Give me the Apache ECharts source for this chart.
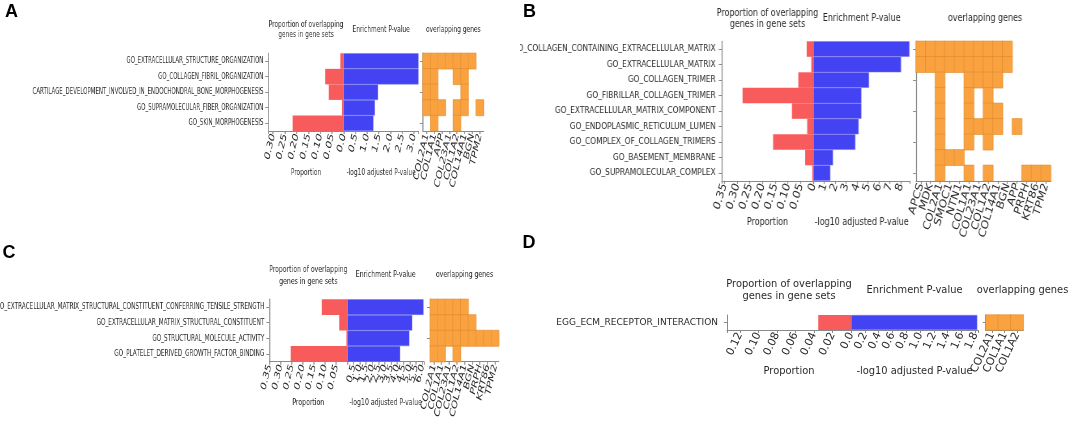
<!DOCTYPE html>
<html><head><meta charset="utf-8">
<script src="https://cdn.jsdelivr.net/npm/echarts@6/dist/echarts.min.js"></script>
<style>
html,body{margin:0;padding:0;background:#fff;width:1072px;height:421px;overflow:hidden;position:relative}
.panel{position:absolute;transform-origin:0 0;}
</style></head><body>
<div id="letters" class="panel" style="left:0;top:0;width:1072px;height:421px"></div>
<div id="pA" class="panel"></div>
<div id="pB" class="panel"></div>
<div id="pC" class="panel"></div>
<div id="pD" class="panel"></div>
<script>
// ---------------- data ----------------
const termsA = ['GO_EXTRACELLULAR_STRUCTURE_ORGANIZATION','GO_COLLAGEN_FIBRIL_ORGANIZATION','CARTILAGE_DEVELOPMENT_INVOLVED_IN_ENDOCHONDRAL_BONE_MORPHOGENESIS','GO_SUPRAMOLECULAR_FIBER_ORGANIZATION','GO_SKIN_MORPHOGENESIS'];
const propA = [0.014, 0.079, 0.064, 0.007, 0.217];
const enrichA = [3.2, 3.2, 1.47, 1.33, 1.27];
const genesA = ['COL2A1','COL1A1','APP','COL23A1','COL1A2','COL14A1','BGN','TPM2'];
const hitsA = [
  ['COL2A1','COL1A1','APP','COL23A1','COL1A2','COL14A1','BGN'],
  ['COL2A1','COL1A1','COL1A2','COL14A1'],
  ['COL2A1','COL1A1','COL14A1'],
  ['COL2A1','COL1A1','APP','COL1A2','COL14A1','TPM2'],
  ['COL1A1','COL1A2']
];

const termsB = ['GO_COLLAGEN_CONTAINING_EXTRACELLULAR_MATRIX','GO_EXTRACELLULAR_MATRIX','GO_COLLAGEN_TRIMER','GO_FIBRILLAR_COLLAGEN_TRIMER','GO_EXTRACELLULAR_MATRIX_COMPONENT','GO_ENDOPLASMIC_RETICULUM_LUMEN','GO_COMPLEX_OF_COLLAGEN_TRIMERS','GO_BASEMENT_MEMBRANE','GO_SUPRAMOLECULAR_COMPLEX'];
const propB = [0.026, 0.008, 0.059, 0.278, 0.084, 0.024, 0.158, 0.032, 0.004];
const enrichB = [8.8, 8.03, 5.1, 4.4, 4.4, 4.15, 3.85, 1.8, 1.56];
const genesB = ['APCS','MDK','COL2A1','SMOC1','NTN1','COL1A1','COL23A1','COL1A2','COL14A1','BGN','APP','PRPH','KRT86','TPM2'];
const hitsB = [
  ['APCS','MDK','COL2A1','SMOC1','NTN1','COL1A1','COL23A1','COL1A2','COL14A1','BGN'],
  ['APCS','MDK','COL2A1','SMOC1','NTN1','COL1A1','COL23A1','COL1A2','COL14A1','BGN'],
  ['COL2A1','COL1A1','COL23A1','COL1A2','COL14A1'],
  ['COL2A1','COL1A1','COL1A2'],
  ['COL2A1','COL1A1','COL1A2','COL14A1'],
  ['COL2A1','COL1A1','COL23A1','COL1A2','COL14A1','APP'],
  ['COL2A1','COL1A1','COL1A2'],
  ['COL2A1','SMOC1','NTN1'],
  ['COL2A1','COL1A1','COL1A2','PRPH','KRT86','TPM2']
];

const termsC = ['GO_EXTRACELLULAR_MATRIX_STRUCTURAL_CONSTITUENT_CONFERRING_TENSILE_STRENGTH','GO_EXTRACELLULAR_MATRIX_STRUCTURAL_CONSTITUENT','GO_STRUCTURAL_MOLECULE_ACTIVITY','GO_PLATELET_DERIVED_GROWTH_FACTOR_BINDING'];
const propC = [0.115, 0.036, 0.004, 0.254];
const enrichC = [6.1, 5.2, 4.96, 4.22];
const genesC = ['COL2A1','COL1A1','COL23A1','COL1A2','COL14A1','BGN','PRPH','KRT86','TPM2'];
const hitsC = [
  ['COL2A1','COL1A1','COL23A1','COL1A2','COL14A1'],
  ['COL2A1','COL1A1','COL23A1','COL1A2','COL14A1','BGN'],
  ['COL2A1','COL1A1','COL23A1','COL1A2','COL14A1','BGN','PRPH','KRT86','TPM2'],
  ['COL2A1','COL1A1','COL1A2']
];

const termsD = ['KEGG_ECM_RECEPTOR_INTERACTION'];
const propD = [0.0354];
const enrichD = [1.83];
const genesD = ['COL2A1','COL1A1','COL1A2'];
const hitsD = [['COL2A1','COL1A1','COL1A2']];

const panelLetters = ['A','B','C','D'];
const headerProp = ['Proportion of overlapping','genes in gene sets'];
const headerEnrich = 'Enrichment P-value';
const headerGenes = 'overlapping genes';
const nameProp = 'Proportion';
const nameEnrich = '-log10 adjusted P-value';

// ---------------- style ----------------
const RED = '#f75b5b', BLUE = '#4343f3', ORANGE = '#f9a23f';
const AXIS = '#8a8a8a', TXT = '#2a2a2a';
const FAM = "'DejaVu Sans', 'Noto Sans', sans-serif";

function isMult(v, step){ const r = v/step; return Math.abs(r - Math.round(r)) < 1e-6; }

function panel(id, p, terms, prop, enrich, genes, hits){
  const el = document.getElementById(id);
  const iw = p.W / p.s;
  el.style.left = p.L + 'px'; el.style.top = p.T + 'px';
  el.style.width = iw + 'px'; el.style.height = p.H + 'px';
  el.style.transform = 'scaleX(' + p.s + ')';
  const chart = echarts.init(el, null, {renderer:'canvas', width: iw, height: p.H});
  const X = x => (x - p.L) / p.s, Y = y => y - p.T;
  const gTop = Y(p.yTop), gH = p.yBot - p.yTop;
  const mkGrid = (x0, x1) => ({left: X(x0), top: gTop, width: X(x1) - X(x0), height: gH, containLabel: false, outerBoundsMode: 'none'});
  const tf = {fontFamily: FAM, fontSize: p.fs, color: TXT};
  const xf = {fontFamily: FAM, fontSize: p.xfs, color: TXT};
  const xLine = {show: true, onZero: false, lineStyle: {color: AXIS, width: 1}};
  const xTick = {show: true, length: 3, lineStyle: {color: AXIS, width: 1 / p.s}};
  const yLine = {show: true, onZero: false, lineStyle: {color: AXIS, width: 1 / p.s}};
  const yTick = {show: true, alignWithLabel: true, length: 3 / p.s, lineStyle: {color: AXIS, width: 1}};
  const tfont = p.tfs + 'px ' + FAM;
  const txt = (t, x, y) => ({type: 'text', x: X(x), y: Y(y), silent: true,
      style: {text: t, font: tfont, fill: TXT, align: 'center', verticalAlign: 'middle'}});
  const cells = [];
  terms.forEach((t, i) => hits[i].forEach(g => cells.push([genes.indexOf(g), i, 1])));
  chart.setOption({
    animation: false,
    grid: [mkGrid(p.px0, p.zero), mkGrid(p.zero, p.ex1), mkGrid(p.hx0, p.hx1)],
    xAxis: [
      {type: 'value', gridIndex: 0, inverse: true, min: 0, max: p.propMax, interval: p.propInt,
       axisLine: xLine, axisTick: xTick, splitLine: {show: false},
       axisLabel: Object.assign({rotate: p.rot, margin: 3, formatter: v => (v > 1e-9 && isMult(v, p.propInt)) ? v.toFixed(2) : ''}, xf)},
      {type: 'value', gridIndex: 1, min: 0, max: p.enMax, interval: p.enInt,
       axisLine: xLine, axisTick: xTick, splitLine: {show: false},
       axisLabel: Object.assign({rotate: p.rot, margin: 3, formatter: v => isMult(v, p.enInt) ? v.toFixed(p.enDig) : ''}, xf)},
      {type: 'category', gridIndex: 2, data: genes,
       axisLine: xLine, axisTick: Object.assign({alignWithLabel: true}, xTick), splitLine: {show: false},
       axisLabel: Object.assign({rotate: p.rot, margin: 3, interval: 0}, xf)}
    ],
    yAxis: [
      {type: 'category', gridIndex: 0, data: terms, inverse: true, axisLine: yLine, axisTick: yTick,
       axisLabel: Object.assign({interval: 0, margin: p.lm / p.s}, tf)},
      {type: 'category', gridIndex: 1, data: terms, inverse: true, show: false},
      {type: 'category', gridIndex: 2, data: terms, inverse: true, axisLine: yLine, axisTick: yTick,
       axisLabel: {show: false}}
    ],
    visualMap: {show: false, type: 'piecewise', seriesIndex: 2, pieces: [{value: 1, color: ORANGE}]},
    series: [
      {type: 'bar', xAxisIndex: 0, yAxisIndex: 0, data: prop, barWidth: '100%', itemStyle: {color: RED}},
      {type: 'bar', xAxisIndex: 1, yAxisIndex: 1, data: enrich, barWidth: '100%',
       itemStyle: {color: BLUE, borderColor: '#7272ee', borderWidth: 0.5}},
      {type: 'heatmap', xAxisIndex: 2, yAxisIndex: 2, data: cells,
       itemStyle: {borderColor: '#dc8c33', borderWidth: 0.6}}
    ],
    graphic: [
      txt(headerProp[0], (p.px0 + p.zero) / 2, p.h1),
      txt(headerProp[1], (p.px0 + p.zero) / 2, p.h2),
      txt(headerEnrich, (p.zero + p.ex1) / 2, p.hs),
      txt(headerGenes, p.gx, p.hs),
      txt(nameProp, (p.px0 + p.zero) / 2, p.ny),
      txt(nameEnrich, (p.zero + p.ex1) / 2, p.ny)
    ]
  });
}

// layout (page pixels)
panel('pA', {L: 0, T: 0, W: 520, H: 210, s: 0.64, fs: 8.5, xfs: 12.3, tfs: 9.2, rot: 70, lm: 5,
  px0: 268, zero: 343.3, ex1: 418, hx0: 422.3, hx1: 483, yTop: 53.3, yBot: 131,
  propMax: 0.32, propInt: 0.05, enMax: 3.2, enInt: 0.5, enDig: 1,
  h1: 25, h2: 35, hs: 30, gx: 452.7, ny: 173}, termsA, propA, enrichA, genesA, hitsA);

panel('pB', {L: 520, T: 0, W: 552, H: 250, s: 0.81, fs: 9.2, xfs: 12.3, tfs: 9.9, rot: 70, lm: 6,
  px0: 721.7, zero: 813.3, ex1: 910, hx0: 916, hx1: 1050.7, yTop: 41.3, yBot: 180.8,
  propMax: 0.36, propInt: 0.05, enMax: 8.85, enInt: 1, enDig: 0,
  h1: 13.3, h2: 24.3, hs: 18.3, gx: 985, ny: 222.5}, termsB, propB, enrichB, genesB, hitsB);

panel('pC', {L: 0, T: 210, W: 520, H: 211, s: 0.65, fs: 8.8, xfs: 12, tfs: 9.5, rot: 70, lm: 5,
  px0: 269.3, zero: 347.3, ex1: 424, hx0: 430, hx1: 499, yTop: 299.3, yBot: 361.7,
  propMax: 0.35, propInt: 0.05, enMax: 6.14, enInt: 0.5, enDig: 1,
  h1: 270, h2: 281.7, hs: 275, gx: 464.5, ny: 403}, termsC, propC, enrichC, genesC, hitsC);

panel('pD', {L: 556, T: 210, W: 516, H: 211, s: 1, fs: 9, xfs: 10.8, tfs: 9.9, rot: 65, lm: 9,
  px0: 727, zero: 851, ex1: 978, hx0: 985.7, hx1: 1023.3, yTop: 315, yBot: 330,
  propMax: 0.134, propInt: 0.02, enMax: 1.84, enInt: 0.2, enDig: 1,
  h1: 284.5, h2: 296.7, hs: 290, gx: 1022.5, ny: 371.7}, termsD, propD, enrichD, genesD, hitsD);

// panel letters
(function(){
  const el = document.getElementById('letters');
  const chart = echarts.init(el, null, {renderer: 'canvas', width: 1072, height: 421});
  const pos = [[11.5, 12], [529.5, 12], [9, 253.5], [529, 243]];
  chart.setOption({animation: false, graphic: panelLetters.map((t, i) => ({
    type: 'text', x: pos[i][0], y: pos[i][1], silent: true,
    style: {text: t, font: "bold 18px 'Liberation Sans', Arial, sans-serif", fill: '#000', align: 'center', verticalAlign: 'middle'}
  }))});
})();
</script>
</body></html>
